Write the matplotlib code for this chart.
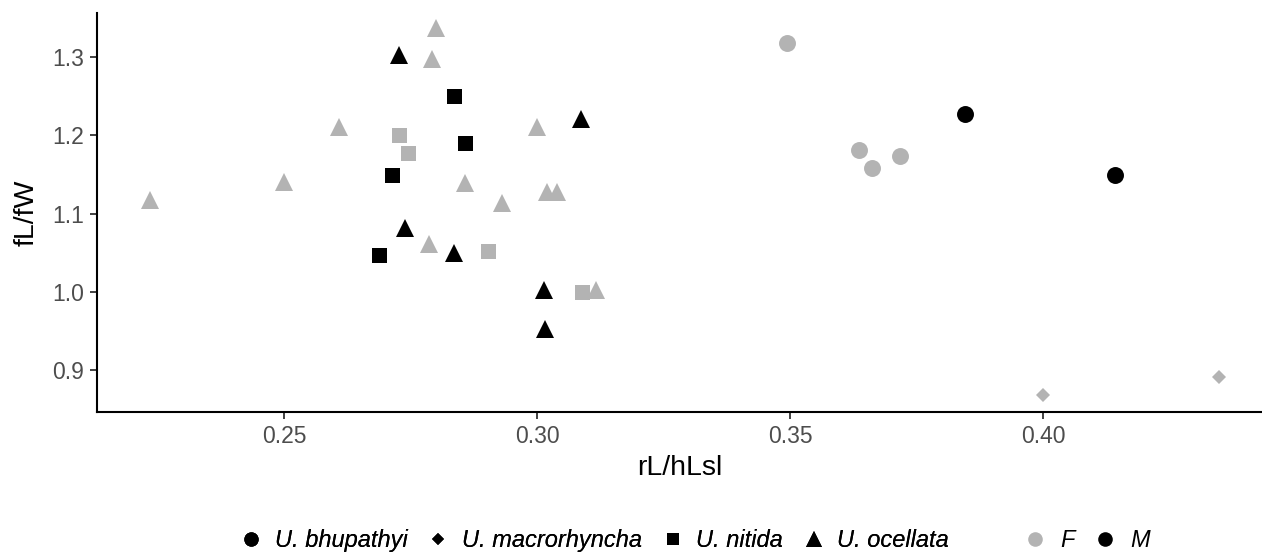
import matplotlib
matplotlib.use("Agg")
import matplotlib.pyplot as plt
from matplotlib.lines import Line2D

plt.rcParams["font.family"] = ["Liberation Sans", "DejaVu Sans"]

GREY = "#b3b3b3"
BLACK = "#000000"

# U. ocellata
ocellata_f_x = [0.2235, 0.2500, 0.2609, 0.2800, 0.2792, 0.2858, 0.2931, 0.2787, 0.3000, 0.3020, 0.3040, 0.3117]
ocellata_f_y = [1.117, 1.140, 1.211, 1.337, 1.297, 1.139, 1.114, 1.061, 1.210, 1.128, 1.128, 1.002]
ocellata_m_x = [0.2727, 0.2739, 0.2836, 0.3087, 0.3014, 0.3016]
ocellata_m_y = [1.302, 1.082, 1.050, 1.221, 1.002, 0.953]

# U. nitida
nitida_f_x = [0.2727, 0.2745, 0.2903, 0.3089]
nitida_f_y = [1.200, 1.177, 1.052, 1.000]
nitida_m_x = [0.2836, 0.2858, 0.2713, 0.2688]
nitida_m_y = [1.250, 1.190, 1.149, 1.047]

# U. bhupathyi
bhupathyi_f_x = [0.3494, 0.3636, 0.3662, 0.3717]
bhupathyi_f_y = [1.318, 1.181, 1.158, 1.174]
bhupathyi_m_x = [0.3846, 0.4142]
bhupathyi_m_y = [1.227, 1.149]

# U. macrorhyncha
macro_f_x = [0.4000, 0.4348]
macro_f_y = [0.868, 0.891]

species = ["U. bhupathyi", "U. macrorhyncha", "U. nitida", "U. ocellata"]
sexes = ["F", "M"]

MARKERS = {"U. bhupathyi": ("o", 12.2), "U. macrorhyncha": ("D", 7.6),
           "U. nitida": ("s", 10.8), "U. ocellata": ("^", 13.5)}


def main():
    fig = plt.figure(figsize=(12.62, 5.56), dpi=100)
    ax = fig.add_axes([97 / 1262, 1 - 412 / 556, 1 - 97 / 1262, (412 - 13) / 556])

    groups = [
        ("U. bhupathyi", GREY, bhupathyi_f_x, bhupathyi_f_y),
        ("U. bhupathyi", BLACK, bhupathyi_m_x, bhupathyi_m_y),
        ("U. macrorhyncha", GREY, macro_f_x, macro_f_y),
        ("U. nitida", GREY, nitida_f_x, nitida_f_y),
        ("U. nitida", BLACK, nitida_m_x, nitida_m_y),
        ("U. ocellata", GREY, ocellata_f_x, ocellata_f_y),
        ("U. ocellata", BLACK, ocellata_m_x, ocellata_m_y),
    ]
    for sp, col, xs, ys in groups:
        mk, ms = MARKERS[sp]
        ax.plot(xs, ys, linestyle="none", marker=mk, markersize=ms,
                color=col, markeredgewidth=0)

    ax.set_xlim(0.25 - 187 / 5060, 0.25 + 978 / 5060)
    ax.set_ylim(1.3 - 355 / 783, 1.3 + 44 / 783)
    ax.set_xticks([0.25, 0.30, 0.35, 0.40])
    ax.set_yticks([0.9, 1.0, 1.1, 1.2, 1.3])
    ax.set_xticklabels(["0.25", "0.30", "0.35", "0.40"])
    ax.set_yticklabels(["0.9", "1.0", "1.1", "1.2", "1.3"])

    for side in ("top", "right"):
        ax.spines[side].set_visible(False)
    for side in ("left", "bottom"):
        ax.spines[side].set_linewidth(1.5)
    ax.tick_params(axis="both", length=5, width=1.3, color="#333333",
                   labelcolor="#4d4d4d", labelsize=16.5, pad=4.5)

    ax.set_xlabel("rL/hLsl", fontsize=20.5, labelpad=5)
    ax.set_ylabel("fL/fW", fontsize=20.5, labelpad=9)

    sp_handles = [Line2D([], [], linestyle="none", marker=MARKERS[s][0],
                         markersize=MARKERS[s][1] * 0.85, color=BLACK,
                         markeredgewidth=0) for s in species]
    leg1 = fig.legend(sp_handles, species, loc="center", ncol=4,
                      bbox_to_anchor=(0.471, 0.027), frameon=False,
                      prop={"size": 17, "style": "italic"},
                      handlelength=1.0, handletextpad=0.5, columnspacing=0.8)
    fig.add_artist(leg1)

    sex_handles = [Line2D([], [], linestyle="none", marker="o", markersize=10.5,
                          color=c, markeredgewidth=0) for c in (GREY, BLACK)]
    fig.legend(sex_handles, sexes, loc="center", ncol=2,
               bbox_to_anchor=(0.861, 0.027), frameon=False,
               prop={"size": 17, "style": "italic"},
               handlelength=1.0, handletextpad=0.55, columnspacing=0.8)

    fig.savefig("out.png", dpi=100)


if __name__ == "__main__":
    main()
